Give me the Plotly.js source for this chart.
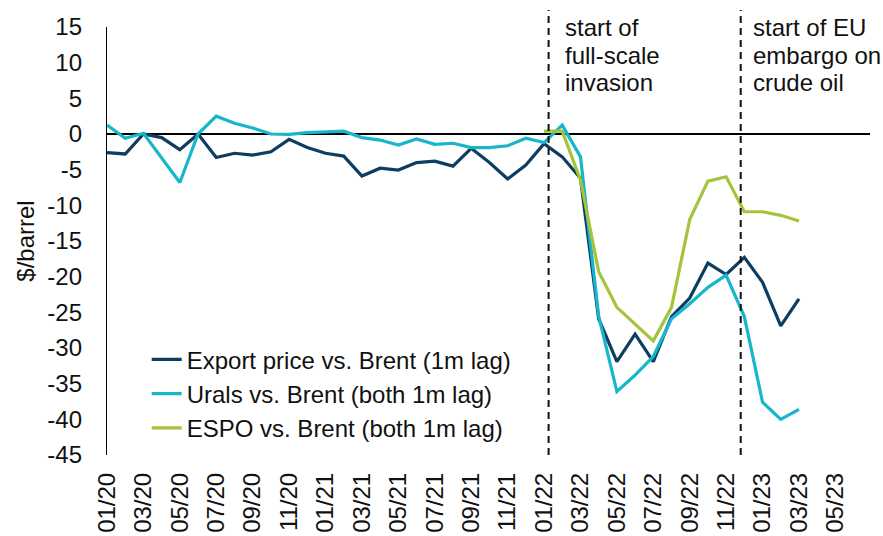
<!DOCTYPE html>
<html>
<head>
<meta charset="utf-8">
<script src="https://cdn.plot.ly/plotly-3.0.1.min.js"></script>
<style>html,body{margin:0;padding:0;background:#fff;}#chart{width:883px;height:536px;}</style>
</head>
<body>
<div id="chart"></div>
<script>
const months = ['01/20','02/20','03/20','04/20','05/20','06/20','07/20','08/20','09/20','10/20','11/20','12/20',
  '01/21','02/21','03/21','04/21','05/21','06/21','07/21','08/21','09/21','10/21','11/21','12/21',
  '01/22','02/22','03/22','04/22','05/22','06/22','07/22','08/22','09/22','10/22','11/22','12/22',
  '01/23','02/23','03/23','04/23','05/23','06/23','07/23'];

const exportVsBrent = [-2.6,-2.8,0.0,-0.5,-2.2,0.0,-3.3,-2.7,-2.95,-2.5,-0.75,-1.9,
  -2.7,-3.1,-5.9,-4.8,-5.05,-4.0,-3.8,-4.5,-2.0,-4.0,-6.3,-4.35,
  -1.35,-3.2,-6.2,-25.9,-31.9,-28.05,-31.9,-25.6,-23.0,-18.1,-19.7,-17.3,
  -20.8,-26.9,-23.1];

const uralsVsBrent = [1.25,-0.6,0.1,-3.4,-6.8,0.0,2.5,1.5,0.85,0.0,-0.05,0.2,
  0.3,0.4,-0.5,-0.85,-1.55,-0.7,-1.45,-1.3,-1.9,-1.9,-1.65,-0.6,
  -1.2,1.25,-3.2,-25.5,-36.1,-33.8,-31.2,-25.9,-23.8,-21.5,-19.8,-25.6,
  -37.6,-40.0,-38.6];

const espoMonths = months.slice(24, 39);
const espoVsBrent = [0.4,0.4,-6.45,-19.3,-24.3,-26.6,-29.0,-24.3,-12.0,-6.6,-6.0,-10.9,
  -10.9,-11.4,-12.2];

const seriesNames = ['Export price vs. Brent (1m lag)','Urals vs. Brent (both 1m lag)','ESPO vs. Brent (both 1m lag)'];
const tickLabels = months.filter((m, i) => i % 2 === 0 && i <= 40);
const yTickVals = [15,10,5,0,-5,-10,-15,-20,-25,-30,-35,-40,-45];
const yTickText = ['15','10','5','0','-5','-10','-15','-20','-25','-30','-35','-40','-45'];

const FONT = 'Liberation Sans, Arial, sans-serif';

const traces = [
  {x: months.slice(0, exportVsBrent.length), y: exportVsBrent, name: seriesNames[0], type: 'scatter', mode: 'lines',
   line: {color: '#0D3D61', width: 3.2}},
  {x: months.slice(0, uralsVsBrent.length), y: uralsVsBrent, name: seriesNames[1], type: 'scatter', mode: 'lines',
   line: {color: '#17B6CB', width: 3.2}},
  {x: espoMonths, y: espoVsBrent, name: seriesNames[2], type: 'scatter', mode: 'lines',
   line: {color: '#A3C43C', width: 3.2}}
];

const invX = 24.25, embX = 34.8;
function ann(x, xshift, yc, text) {
  return {x: x, xref: 'x', xshift: xshift, xanchor: 'left', y: 1 - (yc - 27) / 428, yref: 'paper', yanchor: 'middle',
    text: text, showarrow: false, font: {family: FONT, size: 24, color: '#111'}};
}

const layout = {
  width: 883, height: 536,
  margin: {l: 107, r: 13, t: 27, b: 81, pad: 0},
  paper_bgcolor: '#fff', plot_bgcolor: '#fff',
  font: {family: FONT, size: 24, color: '#111'},
  showlegend: true,
  legend: {x: 0.052, xanchor: 'left', y: 0.275, yanchor: 'top', bgcolor: 'rgba(0,0,0,0)',
    font: {family: FONT, size: 24, color: '#111'}, tracegroupgap: 0},
  xaxis: {type: 'category', categoryarray: months, categoryorder: 'array', range: [0, 41.9],
    tickmode: 'array', tickvals: tickLabels, ticktext: tickLabels, tickangle: -90,
    showgrid: false, showline: false, zeroline: false, ticks: '', ticklabelstandoff: 12,
    tickfont: {family: FONT, size: 24, color: '#111'}},
  yaxis: {range: [-45, 15], tickmode: 'array', tickvals: yTickVals, ticktext: yTickText,
    showgrid: false, showline: true, linecolor: '#000', linewidth: 1.2,
    zeroline: true, zerolinecolor: '#000', zerolinewidth: 2, ticks: '', ticklabelstandoff: 19,
    tickfont: {family: FONT, size: 24, color: '#111'},
    title: {text: '$/barrel', font: {family: FONT, size: 24, color: '#111'}, standoff: 6}},
  shapes: [
    {type: 'line', xref: 'x', yref: 'paper', x0: invX, x1: invX, y0: 0, y1: 1.04, line: {color: '#111', width: 2, dash: '7px,5px'}},
    {type: 'line', xref: 'x', yref: 'paper', x0: embX, x1: embX, y0: 0, y1: 1.04, line: {color: '#111', width: 2, dash: '7px,5px'}}
  ],
  annotations: [
    ann(invX, 14, 27, 'start of'), ann(invX, 14, 55, 'full-scale'), ann(invX, 14, 82, 'invasion'),
    ann(embX, 10, 27, 'start of EU'), ann(embX, 10, 55, 'embargo on'), ann(embX, 10, 82, 'crude oil')
  ]
};

Plotly.newPlot('chart', traces, layout, {displayModeBar: false, staticPlot: true});
</script>
</body>
</html>
